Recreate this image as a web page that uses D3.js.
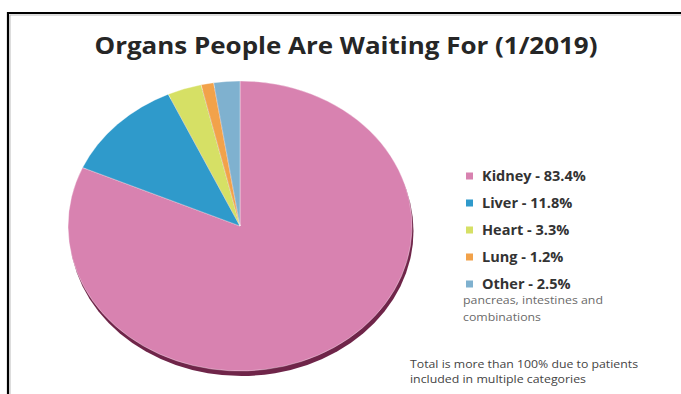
<!DOCTYPE html>
<html><head><meta charset="utf-8">
<script src="https://cdn.jsdelivr.net/npm/d3@7"></script>
<style>body{margin:0;background:#fff}svg{display:block}</style>
</head><body>
<svg id="c" width="681" height="394"></svg>
<script>
const categories = ["Kidney", "Liver", "Heart", "Lung", "Other"];
const values = [83.4, 11.8, 3.3, 1.2, 2.5];
const labels = ["Kidney - 83.4%", "Liver - 11.8%", "Heart - 3.3%", "Lung - 1.2%", "Other - 2.5%"];
const colors = ["#d882b0", "#2f9acb", "#d6e065", "#f2a24a", "#7fb1cf"];

const svg = d3.select("#c");
// frame
svg.append("path").attr("d", "M681,13 H8 V394").attr("fill", "none")
  .attr("stroke", "#000").attr("stroke-width", 2.2);
svg.append("path").attr("d", "M681,15 H10 V394").attr("fill", "none")
  .attr("stroke", "#aaa").attr("stroke-width", 0.8);

svg.append("text").attr("x", 346).attr("y", 54).attr("text-anchor", "middle")
  .attr("font-family", "Open Sans").attr("font-weight", "bold").attr("font-size", 23.5)
  .attr("textLength", 503).attr("lengthAdjust", "spacingAndGlyphs")
  .attr("fill", "#262626").text("Organs People Are Waiting For (1/2019)");

const cx = 240, cy = 226, rx = 172, ry = 145, depth = 5;
const pie = d3.pie().sort(null).value(d => d)(values);
const arc = d3.arc().innerRadius(0).outerRadius(1);

// shadow/side
svg.append("ellipse").attr("cx", cx + 1.5).attr("cy", cy + depth).attr("rx", rx).attr("ry", ry)
  .attr("fill", "#6f2549");

const g = svg.append("g").attr("transform", `translate(${cx},${cy}) scale(${rx},${ry})`);
g.selectAll("path").data(pie).join("path")
  .attr("d", arc).attr("fill", (d, i) => colors[i])
  .attr("stroke", "rgba(255,255,255,0.35)").attr("stroke-width", 1)
  .attr("vector-effect", "non-scaling-stroke");

const ys = d3.scalePoint().domain(categories).range([176, 284]);
const leg = svg.append("g");
categories.forEach((c, i) => {
  leg.append("rect").attr("x", 466).attr("y", ys(c) - 3.5).attr("width", 7).attr("height", 7)
    .attr("fill", colors[i]);
  leg.append("text").attr("x", 482).attr("y", ys(c) + 5)
    .attr("font-family", "Open Sans").attr("font-weight", "bold").attr("font-size", 14.5)
    .attr("fill", "#333").text(labels[i]);
});
const note = [["pancreas, intestines and", 304, 140], ["combinations", 321, 78]];
note.forEach(([t, y, w]) => svg.append("text").attr("x", 463).attr("y", y)
  .attr("font-family", "Open Sans").attr("font-size", 11).attr("fill", "#6a6a6a")
  .attr("textLength", w).attr("lengthAdjust", "spacingAndGlyphs").text(t));
const foot = [["Total is more than 100% due to patients", 368, 228], ["included in multiple categories", 383, 176]];
foot.forEach(([t, y, w]) => svg.append("text").attr("x", 410).attr("y", y)
  .attr("font-family", "Open Sans").attr("font-size", 11).attr("fill", "#444")
  .attr("textLength", w).attr("lengthAdjust", "spacingAndGlyphs").text(t));
</script>
</body></html>
